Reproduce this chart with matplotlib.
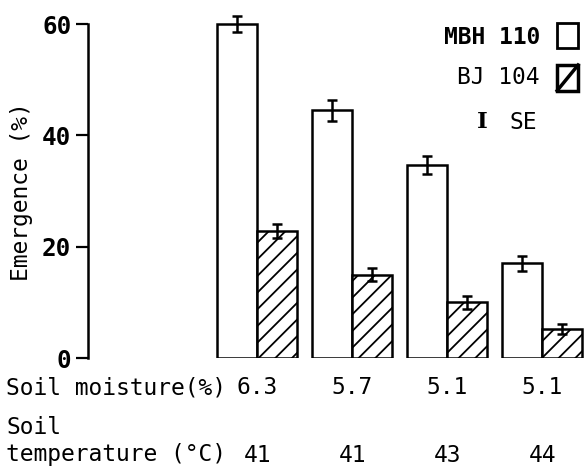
import numpy as np
import matplotlib.pyplot as plt
from matplotlib.patches import Rectangle
import matplotlib.transforms as mtransforms

# data
moisture = ['6.3', '5.7', '5.1', '5.1']
temperature = ['41', '41', '43', '44']
mbh110 = [60, 44.5, 34.7, 17]
mbh110_se = [1.5, 1.9, 1.6, 1.4]
bj104 = [22.8, 15, 10, 5.2]
bj104_se = [1.2, 1.1, 1.2, 0.9]

plt.rcParams['font.family'] = 'DejaVu Sans Mono'
plt.rcParams['hatch.linewidth'] = 1.3
fs = 16.5

fig = plt.figure(figsize=(5.85, 4.67), dpi=100)
ax = fig.add_axes([88/585, (467-358)/467, 497/585, 345/467])

x = np.arange(len(moisture))
w = 0.42
ax.bar(x - w/2, mbh110, w, color='white', edgecolor='black', linewidth=1.8)
ax.bar(x + w/2, bj104, w, color='white', edgecolor='black', linewidth=1.8, hatch='//')
ax.errorbar(x - w/2, mbh110, yerr=mbh110_se, fmt='none', ecolor='black',
            elinewidth=1.8, capsize=3.5, capthick=1.8)
ax.errorbar(x + w/2, bj104, yerr=bj104_se, fmt='none', ecolor='black',
            elinewidth=1.8, capsize=3.5, capthick=1.8)

ax.set_xlim(-1.78, 3.45)
ax.set_ylim(0, 62)
ax.set_yticks([0, 20, 40, 60])
ax.tick_params(axis='y', direction='out', length=9, width=1.6, pad=3, labelsize=fs + 1)
for lab in ax.get_yticklabels():
    lab.set_fontweight('bold')
ax.set_xticks([])
for s in ['top', 'right', 'bottom']:
    ax.spines[s].set_visible(False)
ax.spines['left'].set_linewidth(1.8)
ax.spines['left'].set_bounds(0, 60)

fig.text(22/585, (467-192)/467, 'Emergence (%)', rotation=90, ha='center', va='center',
         fontsize=fs)

# rows under the bars
trans = mtransforms.blended_transform_factory(ax.transData, fig.transFigure)
for xi, m, t in zip(x, moisture, temperature):
    ax.text(xi, (467-388)/467, m, transform=trans, ha='center', va='center', fontsize=fs)
    ax.text(xi, (467-455)/467, t, transform=trans, ha='center', va='center', fontsize=fs)
fig.text(6/585, (467-388)/467, 'Soil moisture(%)', ha='left', va='center', fontsize=fs)
fig.text(6/585, (467-428)/467, 'Soil', ha='left', va='center', fontsize=fs)
fig.text(6/585, (467-455)/467, 'temperature (°C)', ha='left', va='center', fontsize=fs)

# legend
ax.text(0.909, 0.930, 'MBH 110', transform=ax.transAxes, ha='right', va='center',
        fontsize=fs, fontweight='bold')
ax.add_patch(Rectangle((0.944, 0.899), 0.042, 0.072, transform=ax.transAxes,
                       facecolor='white', edgecolor='black', linewidth=2))
ax.text(0.909, 0.814, 'BJ 104', transform=ax.transAxes, ha='right', va='center', fontsize=fs)
ax.add_patch(Rectangle((0.944, 0.775), 0.042, 0.074, transform=ax.transAxes,
                       facecolor='white', edgecolor='black', linewidth=2.5))
ax.plot([0.944, 0.986], [0.775, 0.849], transform=ax.transAxes, color='black', lw=2.5)
ax.text(0.793, 0.684, 'I', transform=ax.transAxes, ha='center', va='center',
        fontsize=fs, family='DejaVu Serif', fontweight='bold')
ax.text(0.849, 0.684, 'SE', transform=ax.transAxes, ha='left', va='center', fontsize=fs)

fig.savefig('out.png', dpi=100)
